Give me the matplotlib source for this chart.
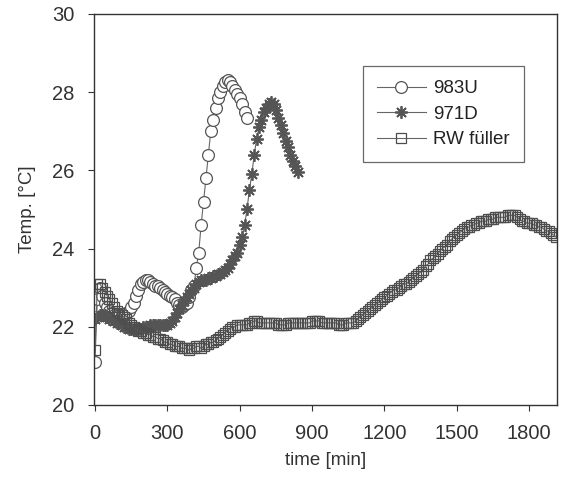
import numpy as np
import matplotlib
matplotlib.use("Agg")
import matplotlib.pyplot as plt

plt.rcParams['font.family'] = ['Liberation Sans', 'DejaVu Sans']

# Data (sampled every 10 min)
t_983u = np.arange(0, 640, 10)
temp_983u = [21.1, 22.7, 23.0, 22.8, 22.6, 22.5, 22.4, 22.35, 22.3, 22.3,
             22.3, 22.3, 22.3, 22.35, 22.4, 22.5, 22.6, 22.8, 22.95, 23.1,
             23.15, 23.2, 23.2, 23.15, 23.1, 23.05, 23.05, 23.0, 22.95, 22.9,
             22.85, 22.8, 22.75, 22.7, 22.6, 22.55, 22.5, 22.55, 22.6, 22.75,
             22.95, 23.05, 23.5, 23.9, 24.6, 25.2, 25.8, 26.4, 27.0, 27.3,
             27.6, 27.85, 28.0, 28.15, 28.25, 28.3, 28.25, 28.15, 28.05, 27.95,
             27.85, 27.7, 27.5, 27.35]

t_971d = np.arange(0, 850, 10)
temp_971d = [22.2, 22.25, 22.3, 22.3, 22.3, 22.25, 22.2, 22.2, 22.15, 22.1,
             22.1, 22.05, 22.0, 22.0, 21.95, 21.95, 21.95, 21.95, 21.95, 21.95,
             22.0, 22.0, 22.0, 22.05, 22.05, 22.05, 22.05, 22.05, 22.05, 22.05,
             22.05, 22.1, 22.15, 22.25, 22.35, 22.45, 22.55, 22.65, 22.75, 22.85,
             22.95, 23.0, 23.1, 23.15, 23.2, 23.2, 23.2, 23.25, 23.25, 23.3,
             23.3, 23.35, 23.35, 23.4, 23.45, 23.5, 23.6, 23.7, 23.8, 23.9,
             24.1, 24.3, 24.6, 25.0, 25.5, 25.9, 26.4, 26.8, 27.1, 27.3,
             27.5, 27.6, 27.7, 27.75, 27.7, 27.55, 27.35, 27.15, 26.95, 26.75,
             26.6, 26.4, 26.25, 26.1, 25.95]

t_rw = np.arange(0, 1920, 10)
temp_rw = [21.4, 23.1, 23.1, 23.0, 22.9, 22.8, 22.7, 22.6, 22.5, 22.4,
           22.35, 22.3, 22.25, 22.2, 22.1, 22.05, 22.0, 21.95, 21.9, 21.9,
           21.85, 21.85, 21.8, 21.8, 21.75, 21.75, 21.7, 21.7, 21.65, 21.6,
           21.6, 21.55, 21.55, 21.5, 21.5, 21.5, 21.45, 21.45, 21.45, 21.4,
           21.45, 21.45, 21.5, 21.5, 21.45, 21.5, 21.55, 21.55, 21.6, 21.6,
           21.65, 21.7, 21.75, 21.8, 21.85, 21.9, 21.95, 22.0, 22.0, 22.05,
           22.05, 22.05, 22.05, 22.05, 22.1, 22.1, 22.15, 22.15, 22.1, 22.1,
           22.1, 22.1, 22.1, 22.1, 22.1, 22.1, 22.05, 22.05, 22.05, 22.05,
           22.1, 22.1, 22.1, 22.1, 22.1, 22.1, 22.1, 22.1, 22.1, 22.1,
           22.15, 22.15, 22.15, 22.15, 22.1, 22.1, 22.1, 22.1, 22.1, 22.1,
           22.1, 22.05, 22.05, 22.05, 22.1, 22.1, 22.1, 22.1, 22.15, 22.2,
           22.25, 22.3, 22.35, 22.4, 22.45, 22.5, 22.55, 22.6, 22.65, 22.7,
           22.75, 22.8, 22.85, 22.9, 22.95, 22.95, 23.0, 23.05, 23.1, 23.1,
           23.15, 23.2, 23.25, 23.3, 23.35, 23.4, 23.45, 23.55, 23.6, 23.7,
           23.75, 23.8, 23.85, 23.95, 24.0, 24.05, 24.1, 24.2, 24.25, 24.3,
           24.35, 24.4, 24.45, 24.5, 24.55, 24.55, 24.6, 24.6, 24.65, 24.65,
           24.7, 24.7, 24.7, 24.75, 24.75, 24.75, 24.8, 24.8, 24.8, 24.8,
           24.8, 24.85, 24.85, 24.85, 24.85, 24.8, 24.75, 24.7, 24.7, 24.65,
           24.65, 24.65, 24.6, 24.6, 24.55, 24.55, 24.5, 24.45, 24.45, 24.4,
           24.35, 24.3]

x_ticks = [0, 300, 600, 900, 1200, 1500, 1800]
y_ticks = [20, 22, 24, 26, 28, 30]

fig = plt.figure(figsize=(5.62, 4.78), dpi=100)
ax = fig.add_axes([94 / 562, 1 - 405 / 478, (557 - 94) / 562, (405 - 14) / 478])

ax.plot(t_983u, temp_983u, color='#666666', lw=0.8, marker='o', ms=8.5,
        mfc='white', mec='#555555', mew=0.9, label='983U')
ax.plot(t_971d, temp_971d, color='#666666', lw=0.8, marker=(8, 2, 0), ms=9,
        mfc='#555555', mec='#555555', mew=1.3, label='971D')
ax.plot(t_rw, temp_rw, color='#666666', lw=0.8, marker='s', ms=6.5,
        mfc='none', mec='#4d4d4d', mew=0.9, label='RW füller')

ax.set_xlim(-4, 1915)
ax.set_ylim(20, 30)
ax.set_xticks(x_ticks)
ax.set_yticks(y_ticks)
ax.tick_params(direction='out', length=4, width=0.8, colors='#333333',
               labelsize=14.5, pad=10)
for s in ax.spines.values():
    s.set_color('#333333')
    s.set_linewidth(1.0)

ax.set_xlabel('time [min]', fontsize=13.5, color='#333333', labelpad=6)
ax.set_ylabel('Temp. [°C]', fontsize=13.5, color='#333333', labelpad=12)

leg = ax.legend(loc='upper left', bbox_to_anchor=(363 / 562, 1 - 66 / 478),
                bbox_transform=fig.transFigure, fontsize=13.5, frameon=True,
                fancybox=False, edgecolor='#444444', handlelength=2.6,
                handletextpad=0.4, borderpad=0.75, labelspacing=0.45,
                borderaxespad=0)
leg.get_frame().set_linewidth(0.9)
for txt in leg.get_texts():
    txt.set_color('#222222')

fig.savefig('out.png', dpi=100)
